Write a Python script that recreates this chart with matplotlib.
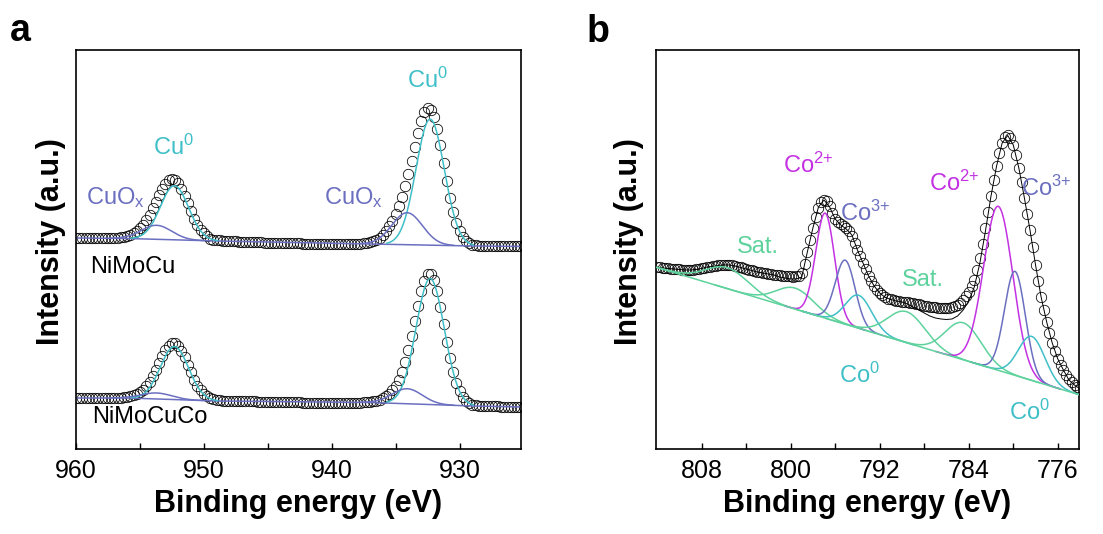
import numpy as np
import matplotlib
matplotlib.use('Agg')
import matplotlib.pyplot as plt

plt.rcParams['font.family'] = ['Liberation Sans', 'DejaVu Sans']
plt.rcParams['mathtext.fontset'] = 'custom'
plt.rcParams['mathtext.rm'] = 'Liberation Sans'
plt.rcParams['mathtext.default'] = 'regular'

# ---------------- panel a: Cu 2p ----------------
# measured points, 0.25 eV step from 960 to 925 eV (arbitrary units)
energy_a = np.arange(960.0, 924.9, -0.25)
nimocu = [
    211, 211, 211, 211, 211, 211, 211, 211, 211, 210.5, 210.5, 210.5,
    # 957 -> 948
    211, 211, 211.5, 212, 213, 214, 216, 217.5, 220.5, 224, 229, 234, 240.5,
    247, 254, 260, 265, 268.5, 270, 269, 265.5, 260, 253, 245.5, 237.5, 230,
    224, 219, 215.5, 213, 210, 209, 208.5, 208.5, 208, 208, 208,
    # 947.75 -> 937.25
    207.5, 207.5, 207, 207, 207, 207, 207, 207, 206.5, 206.5, 206, 206, 206,
    206, 206, 206, 206, 206, 205.5, 205.5, 205.5, 205.5, 205, 205, 205, 205,
    205, 205, 205, 205, 205, 205, 205, 205, 205, 205, 205, 205, 205, 205,
    205, 205.5, 206,
    # 937 -> 928
    206.5, 207.5, 209.3, 211.4, 214.4, 218, 222.7, 228.2, 234.9, 242.8, 252,
    262.6, 274.9, 288.2, 302.2, 315.9, 328.1, 336.7, 340.9, 339.4, 332.2,
    319.6, 303.5, 285.6, 267.7, 251.1, 237.2, 226, 217.7, 211.9, 208.2, 205.9,
    204.4, 203.7, 203.3, 203.2, 203.1,
    # 927.75 -> 925
    203, 203, 203, 202.5, 202.5, 202.5, 202.5, 202.5, 202.5, 202.5, 202.5, 202.5]
nimocuco = [
    51, 51, 51, 51, 51, 51, 51, 51, 51, 51, 51, 51,
    51.1, 51.2, 51.4, 51.7, 52.1, 52.8, 53.7, 55.1, 57, 59.1, 62.6, 67, 72.5,
    78.9, 85.8, 92.7, 98.9, 103.2, 105.8, 105.8, 103.3, 98.4, 91.9, 84.4, 77,
    69.1, 63.2, 58.5, 55, 52.7, 51.1, 50.2, 49.3, 48.7, 48.3, 48.1, 48,
    48, 48, 47.5, 47.5, 47.5, 47.5, 47.5, 47.5, 47, 47, 47, 47, 47, 47, 47,
    47, 46.5, 46.5, 46.5, 46.5, 46.5, 46.5, 46, 46, 46, 46, 46, 46, 46, 46,
    46, 46, 46, 46, 46, 46, 46, 46, 46, 46, 46, 46.5, 46.5,
    47.3, 47.7, 48.4, 49.3, 50.8, 52.7, 55.2, 58.6, 63.2, 69.1, 76.9, 86.7,
    98.7, 112.7, 127.9, 143.3, 157.6, 168.4, 174.6, 174.8, 169, 157.6, 142.4,
    125, 107.4, 91.1, 77.1, 66.1, 57.8, 52, 48.2, 45.9, 44.4, 43.6, 43.1,
    42.9, 42.8,
    42.5, 42.5, 42.5, 42.5, 42, 42, 42, 42, 42, 42, 42, 42]

# background (Shirley-like) anchor points
bg_a_energy = [960, 956, 949, 937, 929, 925]
bg_nimocu = [211, 210.5, 208, 205, 203, 202.5]
bg_nimocuco = [51, 51, 48, 46.5, 43, 42]

# fitted components: Cu0 2p1/2, CuOx 2p1/2, Cu0 2p3/2, CuOx 2p3/2
cu_species = ['Cu0', 'CuOx', 'Cu0', 'CuOx']
cu_center = [952.3, 953.7, 932.3, 934.1]
cu_fwhm = [2.6, 2.8, 2.6, 2.8]
cu_height_nimocu = [54, 14, 126, 32]
cu_height_nimocuco = [53, 6, 126, 15]

# ---------------- panel b: Co 2p ----------------
energy_b = np.arange(812.0, 773.9, -0.25)
co_data = [
    182, 181.5, 181, 180.7, 180.5, 180.2, 180, 179.7, 179.5, 179.2, 179, 178.9,
    179, 179.2, 179.5, 180, 180.5, 181.3, 182, 182.3, 182.5, 183, 183.5, 183.8,
    184, 184.2, 184, 183.6, 183, 182.3, 181.5, 180.7, 180, 179.2, 178.5, 177.7,
    177, 176.5, 176, 175.5, 175, 174.5, 174, 173.7, 173.5, 173.2, 173, 172.7,
    172.5, 172.4, 172.5, 173,
    # 799 -> 786
    176, 185, 197, 209, 221, 232, 241, 246.5, 249, 247.5, 243, 236, 230,
    226.5, 224.5, 222.5, 220.5, 218, 213, 206, 199, 192.5, 186, 179.5, 173,
    167.5, 163, 159, 156, 153.5, 151.5, 150.3, 149.5, 148.7, 148, 147.5, 147,
    146.7, 146.5, 146, 145.5, 145, 144.5, 143.7, 143, 142.5, 142, 141.7,
    141.5, 141.2, 141, 140.7, 140.5,
    # 785.75 -> 774
    140.8, 141.5, 142.5, 144, 146.3, 149, 152.5, 157, 162.5, 169, 179, 191,
    205, 221, 237, 253, 268.5, 283, 296, 306, 311.5, 313.5, 311, 304, 293.5,
    281, 266.5, 251, 235, 219, 201.5, 184, 167.5, 152, 139, 127, 116, 106,
    97.5, 90, 84, 79, 74, 69.5, 66.5, 64, 62, 60]

# fitted envelope (thin black line), 0.5 eV step
energy_b_fit = np.arange(812.0, 773.9, -0.5)
co_envelope = [182, 181, 180.5, 180, 179.5, 179, 179, 179.5, 180.5, 182, 182.5,
               183.5, 184, 184, 183, 181.5, 180, 178.5, 177, 176, 175, 174, 172,
               171, 170, 170, 172, 197, 221, 242, 249, 242, 230, 224, 220, 214,
               199, 186, 173, 163, 156, 151.5, 149.5, 148, 147, 145, 142,
               139, 136, 133, 131, 130, 129.5, 130, 133, 139, 148, 162, 186,
               218, 253, 283, 306, 313.5, 304, 281, 251, 219, 184, 152, 127,
               106, 90, 79, 69, 64, 60]
bg_b_energy = [812, 774]
bg_b_level = [181.5, 54]

co_species = ['Sat', 'Sat', 'Co2', 'Co3', 'Co0', 'Sat', 'Sat', 'Co2', 'Co3', 'Co0']
co_center = [805.7, 799.6, 796.9, 795.1, 793.9, 789.6, 784.5, 781.35, 779.85, 778.35]
co_height = [21, 21, 105, 64, 33, 31, 37, 164, 104, 44]
co_fwhm = [4.5, 4.0, 2.0, 2.1, 2.8, 4.0, 3.8, 3.1, 2.2, 2.8]

colors = {'Cu0': '#3fbfc7', 'CuOx': '#6b6fc0', 'Co0': '#3fbfc7',
          'Co2': '#c431e3', 'Co3': '#6b6fc0', 'Sat': '#5ed29c'}


def gauss(e, center, height, fwhm):
    return height * np.exp(-4 * np.log(2) * ((e - center) / fwhm) ** 2)


fig = plt.figure(figsize=(11.03, 5.34), dpi=100)
ax1 = fig.add_axes([0.0689, 0.1592, 0.4034, 0.7472])
ax2 = fig.add_axes([0.5947, 0.1592, 0.3835, 0.7472])

marker = dict(ls='none', marker='o', ms=7.5, mfc='none', mec='black', mew=0.55)

# panel a
for data, bg, heights in [(nimocu, bg_nimocu, cu_height_nimocu),
                          (nimocuco, bg_nimocuco, cu_height_nimocuco)]:
    ax1.plot(energy_a, data, zorder=1, **marker)
    ax1.plot(bg_a_energy, bg, color=colors['CuOx'], lw=1.1, zorder=2)
    for sp, c, h, w in zip(cu_species, cu_center, heights, cu_fwhm):
        e = np.linspace(c + 1.3 * w, c - 1.3 * w, 200)
        base = np.interp(e, bg_a_energy[::-1], bg[::-1])
        ax1.plot(e, base + gauss(e, c, h, w), color=colors[sp], lw=1.1, zorder=3)

fs = 17
ax1.text(952.4, 302, 'Cu$^{0}$', color=colors['Cu0'], fontsize=fs, ha='center', va='center')
ax1.text(932.5, 369, 'Cu$^{0}$', color=colors['Cu0'], fontsize=fs, ha='center', va='center')
ax1.text(956.9, 251, 'CuO$_{x}$', color=colors['CuOx'], fontsize=fs, ha='center', va='center')
ax1.text(938.3, 251, 'CuO$_{x}$', color=colors['CuOx'], fontsize=fs, ha='center', va='center')
ax1.text(955.6, 182, 'NiMoCu', fontsize=fs, ha='center', va='center')
ax1.text(954.2, 32, 'NiMoCuCo', fontsize=fs, ha='center', va='center')

ax1.set_xlim(960, 925.2)
ax1.set_xticks([960, 950, 940, 930])
ax1.set_xticks([955, 945, 935], minor=True)

# panel b
ax2.plot(energy_b, co_data, zorder=1, **marker)
ax2.plot(energy_b_fit, co_envelope, color='black', lw=0.7, zorder=2)
slope = (bg_b_level[0] - bg_b_level[1]) / (bg_b_energy[0] - bg_b_energy[1])
for sp, c, h, w in zip(co_species, co_center, co_height, co_fwhm):
    e = np.linspace(min(c + 1.8 * w, 812), max(c - 1.8 * w, 774), 300)
    base = bg_b_level[1] + slope * (e - bg_b_energy[1])
    ax2.plot(e, base + gauss(e, c, h, w), color=colors[sp], lw=1.1, zorder=3)
ax2.plot(bg_b_energy, bg_b_level, color=colors['Sat'], lw=1.1, zorder=3)

ax2.text(798.4, 284, 'Co$^{2{+}}$', color=colors['Co2'], fontsize=fs, ha='center', va='center')
ax2.text(785.3, 266, 'Co$^{2{+}}$', color=colors['Co2'], fontsize=fs, ha='center', va='center')
ax2.text(793.3, 236, 'Co$^{3{+}}$', color=colors['Co3'], fontsize=fs, ha='center', va='center')
ax2.text(777.0, 261, 'Co$^{3{+}}$', color=colors['Co3'], fontsize=fs, ha='center', va='center')
ax2.text(802.9, 202, 'Sat.', color=colors['Sat'], fontsize=fs, ha='center', va='center')
ax2.text(788.1, 169, 'Sat.', color=colors['Sat'], fontsize=fs, ha='center', va='center')
ax2.text(793.8, 74, 'Co$^{0}$', color=colors['Co0'], fontsize=fs, ha='center', va='center')
ax2.text(778.5, 37, 'Co$^{0}$', color=colors['Co0'], fontsize=fs, ha='center', va='center')

ax2.set_xlim(812.1, 774.1)
ax2.set_xticks([808, 800, 792, 784, 776])
ax2.set_xticks([804, 796, 788, 780], minor=True)

for ax, lx in [(ax1, -0.022), (ax2, -0.029)]:
    ax.set_ylim(0, 399)
    ax.set_yticks([])
    ax.tick_params(axis='x', which='both', direction='in', length=4.5, width=1,
                   labelsize=18, pad=7)
    for s in ax.spines.values():
        s.set_linewidth(1.2)
    ax.set_xlabel('Binding energy (eV)', fontsize=22, fontweight='bold')
    ax.xaxis.set_label_coords(0.5, -0.1)
    ax.set_ylabel('Intensity (a.u.)', fontsize=22, fontweight='bold')
    ax.yaxis.set_label_coords(lx, 0.52)

fig.text(0.009, 0.923, 'a', fontsize=27, fontweight='bold', va='baseline', ha='left')
fig.text(0.532, 0.921, 'b', fontsize=27, fontweight='bold', va='baseline', ha='left')

fig.savefig('out.png', dpi=100)
